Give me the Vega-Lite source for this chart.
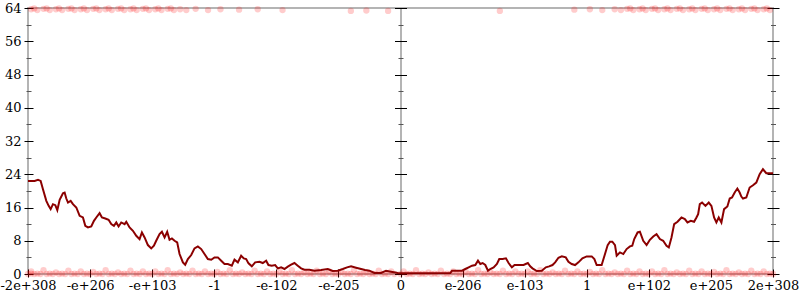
{
  "$schema": "https://vega.github.io/schema/vega-lite/v6.json",
  "width": 745,
  "height": 266,
  "autosize": {"type": "none"},
  "padding": {"left": 28, "top": 8, "right": 27, "bottom": 26},
  "config": {
    "view": {"stroke": "#b4b4b4", "strokeWidth": 2},
    "font": "DejaVu Serif",
    "axis": {"grid": false, "domain": false, "labelFont": "DejaVu Serif", "labelFontSize": 13, "labelColor": "#000", "tickColor": "#000", "tickWidth": 1, "title": null, "labelFlush": false, "labelOverlap": false, "labelBound": false}
  },
  "datasets": {
    "line": [
      {"pos":-6,"v":22.4},{"pos":-5.893,"v":22.4},{"pos":-5.839,"v":22.64},{"pos":-5.796,"v":22.4},{"pos":-5.759,"v":20.4},{"pos":-5.705,"v":17.6},{"pos":-5.667,"v":16.4},{"pos":-5.635,"v":15.6},{"pos":-5.598,"v":16.8},{"pos":-5.56,"v":16.56},{"pos":-5.528,"v":15.36},{"pos":-5.49,"v":17.84},{"pos":-5.437,"v":19.44},{"pos":-5.41,"v":19.6},{"pos":-5.383,"v":18.16},{"pos":-5.356,"v":17.2},{"pos":-5.313,"v":17.6},{"pos":-5.276,"v":16.8},{"pos":-5.222,"v":16.0},{"pos":-5.168,"v":14.0},{"pos":-5.115,"v":13.6},{"pos":-5.077,"v":11.6},{"pos":-5.034,"v":11.2},{"pos":-4.981,"v":11.44},{"pos":-4.938,"v":12.8},{"pos":-4.9,"v":13.6},{"pos":-4.847,"v":14.64},{"pos":-4.809,"v":13.6},{"pos":-4.755,"v":13.36},{"pos":-4.702,"v":13.04},{"pos":-4.659,"v":12.0},{"pos":-4.616,"v":11.6},{"pos":-4.578,"v":12.4},{"pos":-4.541,"v":11.44},{"pos":-4.498,"v":12.4},{"pos":-4.444,"v":12.0},{"pos":-4.417,"v":12.56},{"pos":-4.364,"v":11.2},{"pos":-4.31,"v":10.4},{"pos":-4.256,"v":9.2},{"pos":-4.203,"v":8.4},{"pos":-4.165,"v":10.0},{"pos":-4.122,"v":8.8},{"pos":-4.069,"v":6.96},{"pos":-4.015,"v":6.16},{"pos":-3.972,"v":6.8},{"pos":-3.935,"v":8.0},{"pos":-3.881,"v":9.6},{"pos":-3.843,"v":10.16},{"pos":-3.8,"v":8.8},{"pos":-3.758,"v":10.16},{"pos":-3.72,"v":8.24},{"pos":-3.682,"v":8.56},{"pos":-3.639,"v":8.0},{"pos":-3.597,"v":7.6},{"pos":-3.559,"v":4.8},{"pos":-3.505,"v":2.8},{"pos":-3.468,"v":2.24},{"pos":-3.425,"v":3.6},{"pos":-3.371,"v":4.56},{"pos":-3.318,"v":6.16},{"pos":-3.264,"v":6.64},{"pos":-3.21,"v":6.0},{"pos":-3.157,"v":4.8},{"pos":-3.103,"v":3.6},{"pos":-3.049,"v":3.44},{"pos":-2.996,"v":4.0},{"pos":-2.942,"v":4.0},{"pos":-2.888,"v":3.2},{"pos":-2.835,"v":2.4},{"pos":-2.781,"v":2.4},{"pos":-2.717,"v":2.0},{"pos":-2.674,"v":3.44},{"pos":-2.62,"v":2.8},{"pos":-2.567,"v":4.4},{"pos":-2.524,"v":3.76},{"pos":-2.486,"v":3.6},{"pos":-2.448,"v":2.56},{"pos":-2.395,"v":1.84},{"pos":-2.341,"v":2.8},{"pos":-2.271,"v":2.96},{"pos":-2.218,"v":2.64},{"pos":-2.164,"v":3.2},{"pos":-2.127,"v":2.16},{"pos":-2.073,"v":2.0},{"pos":-2.019,"v":2.16},{"pos":-1.976,"v":1.36},{"pos":-1.923,"v":1.6},{"pos":-1.869,"v":1.2},{"pos":-1.815,"v":1.76},{"pos":-1.762,"v":2.24},{"pos":-1.708,"v":2.64},{"pos":-1.655,"v":2.0},{"pos":-1.601,"v":1.36},{"pos":-1.547,"v":1.04},{"pos":-1.467,"v":1.04},{"pos":-1.386,"v":0.8},{"pos":-1.279,"v":0.96},{"pos":-1.172,"v":1.2},{"pos":-1.091,"v":0.72},{"pos":-1.011,"v":0.8},{"pos":-0.93,"v":1.2},{"pos":-0.861,"v":1.6},{"pos":-0.796,"v":1.84},{"pos":-0.716,"v":1.52},{"pos":-0.635,"v":1.2},{"pos":-0.571,"v":0.96},{"pos":-0.501,"v":0.8},{"pos":-0.421,"v":0.24},{"pos":-0.313,"v":0.24},{"pos":-0.233,"v":0.8},{"pos":-0.152,"v":0.56},{"pos":-0.045,"v":0.24},{"pos":0,"v":0.2},
      {"pos":0.803,"v":0.24},{"pos":0.83,"v":0.8},{"pos":0.991,"v":0.8},{"pos":1.044,"v":1.2},{"pos":1.098,"v":1.6},{"pos":1.152,"v":2.0},{"pos":1.205,"v":2.16},{"pos":1.248,"v":3.2},{"pos":1.285,"v":2.4},{"pos":1.323,"v":2.64},{"pos":1.366,"v":2.16},{"pos":1.409,"v":0.8},{"pos":1.446,"v":1.2},{"pos":1.5,"v":1.6},{"pos":1.553,"v":2.4},{"pos":1.591,"v":3.6},{"pos":1.644,"v":3.6},{"pos":1.698,"v":3.76},{"pos":1.741,"v":2.64},{"pos":1.794,"v":1.6},{"pos":1.837,"v":2.16},{"pos":1.901,"v":2.16},{"pos":1.982,"v":2.16},{"pos":2.051,"v":2.64},{"pos":2.089,"v":1.84},{"pos":2.126,"v":1.36},{"pos":2.196,"v":0.72},{"pos":2.276,"v":0.8},{"pos":2.341,"v":1.6},{"pos":2.394,"v":1.84},{"pos":2.448,"v":2.16},{"pos":2.491,"v":2.8},{"pos":2.544,"v":3.92},{"pos":2.598,"v":4.24},{"pos":2.662,"v":4.0},{"pos":2.705,"v":2.96},{"pos":2.758,"v":2.4},{"pos":2.812,"v":2.16},{"pos":2.866,"v":2.8},{"pos":2.93,"v":3.76},{"pos":2.999,"v":4.24},{"pos":3.08,"v":4.24},{"pos":3.123,"v":3.6},{"pos":3.16,"v":2.16},{"pos":3.24,"v":2.16},{"pos":3.294,"v":4.8},{"pos":3.337,"v":6.96},{"pos":3.374,"v":7.76},{"pos":3.412,"v":7.76},{"pos":3.455,"v":6.96},{"pos":3.482,"v":4.4},{"pos":3.535,"v":5.2},{"pos":3.589,"v":4.8},{"pos":3.642,"v":6.0},{"pos":3.696,"v":6.64},{"pos":3.733,"v":6.8},{"pos":3.765,"v":8.4},{"pos":3.819,"v":10.0},{"pos":3.856,"v":10.16},{"pos":3.91,"v":8.0},{"pos":3.964,"v":6.96},{"pos":4.017,"v":8.24},{"pos":4.071,"v":9.04},{"pos":4.124,"v":9.6},{"pos":4.178,"v":8.4},{"pos":4.231,"v":8.0},{"pos":4.285,"v":6.8},{"pos":4.322,"v":6.4},{"pos":4.365,"v":8.8},{"pos":4.408,"v":12.0},{"pos":4.462,"v":12.56},{"pos":4.526,"v":13.6},{"pos":4.58,"v":13.2},{"pos":4.622,"v":12.4},{"pos":4.676,"v":12.8},{"pos":4.729,"v":12.56},{"pos":4.767,"v":13.6},{"pos":4.794,"v":14.4},{"pos":4.821,"v":16.8},{"pos":4.858,"v":17.2},{"pos":4.912,"v":16.4},{"pos":4.965,"v":17.2},{"pos":5.008,"v":16.4},{"pos":5.051,"v":13.6},{"pos":5.088,"v":12.4},{"pos":5.126,"v":13.6},{"pos":5.169,"v":12.4},{"pos":5.212,"v":15.6},{"pos":5.265,"v":16.24},{"pos":5.303,"v":18.16},{"pos":5.34,"v":18.4},{"pos":5.383,"v":19.6},{"pos":5.426,"v":20.56},{"pos":5.463,"v":19.6},{"pos":5.49,"v":18.64},{"pos":5.517,"v":18.16},{"pos":5.57,"v":18.4},{"pos":5.624,"v":20.8},{"pos":5.678,"v":21.36},{"pos":5.731,"v":22.0},{"pos":5.785,"v":24.0},{"pos":5.838,"v":25.2},{"pos":5.892,"v":24.24},{"pos":6,"v":24.24}
    ],
    "pts": [
      {"pos":-6,"v":0},{"pos":-5.9,"v":0},{"pos":-5.8,"v":0},{"pos":-5.7,"v":0},{"pos":-5.6,"v":0},{"pos":-5.5,"v":0},{"pos":-5.4,"v":0},{"pos":-5.3,"v":0},{"pos":-5.2,"v":0},{"pos":-5.1,"v":0},
      {"pos":-5,"v":0},{"pos":-4.9,"v":0},{"pos":-4.8,"v":0},{"pos":-4.7,"v":0},{"pos":-4.6,"v":0},{"pos":-4.5,"v":0},{"pos":-4.4,"v":0},{"pos":-4.3,"v":0},{"pos":-4.2,"v":0},{"pos":-4.1,"v":0},
      {"pos":-4,"v":0},{"pos":-3.9,"v":0},{"pos":-3.8,"v":0},{"pos":-3.7,"v":0},{"pos":-3.6,"v":0},{"pos":-3.5,"v":0},{"pos":-3.4,"v":0},{"pos":-3.3,"v":0},{"pos":-3.2,"v":0},{"pos":-3.1,"v":0},
      {"pos":-3,"v":0},{"pos":-2.9,"v":0},{"pos":-2.8,"v":0},{"pos":-2.7,"v":0},{"pos":-2.6,"v":0},{"pos":-2.5,"v":0},{"pos":-2.4,"v":0},{"pos":-2.3,"v":0},{"pos":-2.2,"v":0},{"pos":-2.1,"v":0},
      {"pos":-2,"v":0},{"pos":-1.9,"v":0},{"pos":-1.8,"v":0},{"pos":-1.7,"v":0},{"pos":-1.6,"v":0},{"pos":-1.5,"v":0},{"pos":-1.4,"v":0},{"pos":-1.3,"v":0},{"pos":-1.2,"v":0},{"pos":-1.1,"v":0},
      {"pos":-1,"v":0},{"pos":-0.9,"v":0},{"pos":-0.8,"v":0},{"pos":-0.7,"v":0},{"pos":-0.6,"v":0},{"pos":-0.5,"v":0},{"pos":-0.4,"v":0},{"pos":-0.3,"v":0},{"pos":-0.2,"v":0},{"pos":-0.1,"v":0},
      {"pos":0,"v":0},{"pos":0.1,"v":0},{"pos":0.2,"v":0},{"pos":0.3,"v":0},{"pos":0.4,"v":0},{"pos":0.5,"v":0},{"pos":0.6,"v":0},{"pos":0.7,"v":0},{"pos":0.8,"v":0},{"pos":0.9,"v":0},
      {"pos":1,"v":0},{"pos":1.1,"v":0},{"pos":1.2,"v":0},{"pos":1.3,"v":0},{"pos":1.4,"v":0},{"pos":1.5,"v":0},{"pos":1.6,"v":0},{"pos":1.7,"v":0},{"pos":1.8,"v":0},{"pos":1.9,"v":0},
      {"pos":2,"v":0},{"pos":2.1,"v":0},{"pos":2.2,"v":0},{"pos":2.3,"v":0},{"pos":2.4,"v":0},{"pos":2.5,"v":0},{"pos":2.6,"v":0},{"pos":2.7,"v":0},{"pos":2.8,"v":0},{"pos":2.9,"v":0},
      {"pos":3,"v":0},{"pos":3.1,"v":0},{"pos":3.2,"v":0},{"pos":3.3,"v":0},{"pos":3.4,"v":0},{"pos":3.5,"v":0},{"pos":3.6,"v":0},{"pos":3.7,"v":0},{"pos":3.8,"v":0},{"pos":3.9,"v":0},
      {"pos":4,"v":0},{"pos":4.1,"v":0},{"pos":4.2,"v":0},{"pos":4.3,"v":0},{"pos":4.4,"v":0},{"pos":4.5,"v":0},{"pos":4.6,"v":0},{"pos":4.7,"v":0},{"pos":4.8,"v":0},{"pos":4.9,"v":0},
      {"pos":5,"v":0},{"pos":5.1,"v":0},{"pos":5.2,"v":0},{"pos":5.3,"v":0},{"pos":5.4,"v":0},{"pos":5.5,"v":0},{"pos":5.6,"v":0},{"pos":5.7,"v":0},{"pos":5.8,"v":0},{"pos":5.9,"v":0},{"pos":6,"v":0},
      {"pos":-5.95,"v":0.1},{"pos":-5.85,"v":0.1},{"pos":-5.65,"v":0.1},{"pos":-5.45,"v":0.1},{"pos":-5.25,"v":0.1},{"pos":-5.05,"v":0.1},{"pos":-4.85,"v":0.1},{"pos":-4.65,"v":0.1},{"pos":-4.45,"v":0.1},{"pos":-4.25,"v":0.1},
      {"pos":-4.05,"v":0.1},{"pos":-3.85,"v":0.1},{"pos":-3.65,"v":0.1},{"pos":-3.45,"v":0.1},{"pos":-3.25,"v":0.1},{"pos":-3.05,"v":0.1},{"pos":-2.85,"v":0.1},{"pos":-2.65,"v":0.1},{"pos":-2.45,"v":0.1},{"pos":-2.25,"v":0.1},
      {"pos":-2.05,"v":0.1},{"pos":-1.85,"v":0.1},{"pos":-1.65,"v":0.1},{"pos":-1.45,"v":0.1},{"pos":-1.25,"v":0.1},{"pos":-1.05,"v":0.1},{"pos":-0.85,"v":0.1},{"pos":-0.65,"v":0.1},{"pos":-0.45,"v":0.1},{"pos":-0.25,"v":0.1},
      {"pos":0.15,"v":0.1},{"pos":0.35,"v":0.1},{"pos":0.55,"v":0.1},{"pos":0.75,"v":0.1},{"pos":0.95,"v":0.1},{"pos":1.15,"v":0.1},{"pos":1.35,"v":0.1},{"pos":1.55,"v":0.1},{"pos":1.75,"v":0.1},{"pos":1.95,"v":0.1},
      {"pos":2.15,"v":0.1},{"pos":2.35,"v":0.1},{"pos":2.55,"v":0.1},{"pos":2.75,"v":0.1},{"pos":2.95,"v":0.1},{"pos":3.15,"v":0.1},{"pos":3.35,"v":0.1},{"pos":3.55,"v":0.1},{"pos":3.75,"v":0.1},{"pos":3.95,"v":0.1},
      {"pos":4.15,"v":0.1},{"pos":4.35,"v":0.1},{"pos":4.55,"v":0.1},{"pos":4.75,"v":0.1},{"pos":4.95,"v":0.1},{"pos":5.15,"v":0.1},{"pos":5.35,"v":0.1},{"pos":5.55,"v":0.1},{"pos":5.75,"v":0.1},{"pos":5.95,"v":0.1},
      {"pos":-5.95,"v":0.6},{"pos":-5.75,"v":0.9},{"pos":-5.55,"v":0.4},{"pos":-5.35,"v":0.8},{"pos":-5.15,"v":0.6},{"pos":-4.95,"v":0.5},{"pos":-4.75,"v":0.9},{"pos":-4.55,"v":0.4},{"pos":-4.35,"v":0.8},{"pos":-4.15,"v":0.6},
      {"pos":-3.95,"v":0.6},{"pos":-3.75,"v":0.9},{"pos":-3.55,"v":0.4},{"pos":-3.35,"v":0.8},{"pos":-3.15,"v":0.6},{"pos":-2.95,"v":0.5},{"pos":-2.75,"v":0.9},{"pos":-2.55,"v":0.4},{"pos":-2.35,"v":0.8},{"pos":-2.15,"v":0.6},
      {"pos":-1.95,"v":0.6},{"pos":-1.75,"v":0.9},{"pos":-1.55,"v":0.4},{"pos":-1.35,"v":0.8},{"pos":-1.15,"v":0.6},{"pos":-0.95,"v":0.5},{"pos":-0.75,"v":0.9},{"pos":-0.55,"v":0.4},{"pos":-0.35,"v":0.8},{"pos":-0.15,"v":0.6},
      {"pos":0.05,"v":0.6},{"pos":0.25,"v":0.9},{"pos":0.45,"v":0.4},{"pos":0.65,"v":0.8},{"pos":0.85,"v":0.6},{"pos":1.05,"v":0.5},{"pos":1.25,"v":0.9},{"pos":1.45,"v":0.4},{"pos":1.65,"v":0.8},{"pos":1.85,"v":0.6},
      {"pos":2.05,"v":0.6},{"pos":2.25,"v":0.9},{"pos":2.45,"v":0.4},{"pos":2.65,"v":0.8},{"pos":2.85,"v":0.6},{"pos":3.05,"v":0.5},{"pos":3.25,"v":0.9},{"pos":3.45,"v":0.4},{"pos":3.65,"v":0.8},{"pos":3.85,"v":0.6},
      {"pos":4.05,"v":0.6},{"pos":4.25,"v":0.9},{"pos":4.45,"v":0.4},{"pos":4.65,"v":0.8},{"pos":4.85,"v":0.6},{"pos":5.05,"v":0.5},{"pos":5.25,"v":0.9},{"pos":5.45,"v":0.4},{"pos":5.65,"v":0.8},{"pos":5.85,"v":0.6},
      {"pos":-5.95,"v":63.7},{"pos":-5.85,"v":63.5},{"pos":-5.75,"v":63.8},{"pos":-5.65,"v":63.5},{"pos":-5.55,"v":63.7},{"pos":-5.45,"v":63.5},{"pos":-5.35,"v":63.8},{"pos":-5.25,"v":63.5},{"pos":-5.15,"v":63.7},{"pos":-5.05,"v":63.5},
      {"pos":-4.95,"v":63.8},{"pos":-4.85,"v":63.5},{"pos":-4.75,"v":63.7},{"pos":-4.65,"v":63.5},{"pos":-4.55,"v":63.8},{"pos":-4.45,"v":63.5},{"pos":-4.35,"v":63.7},{"pos":-4.25,"v":63.5},{"pos":-4.15,"v":63.8},{"pos":-4.05,"v":63.5},
      {"pos":-3.95,"v":63.7},{"pos":-3.85,"v":63.5},{"pos":-3.75,"v":63.8},{"pos":-3.65,"v":63.5},{"pos":-3.55,"v":63.7},{"pos":-3.45,"v":63.5},{"pos":-3.3,"v":63.8},{"pos":-3.1,"v":63.5},{"pos":-2.9,"v":63.7},{"pos":-2.6,"v":63.6},
      {"pos":-2.3,"v":63.7},{"pos":-1.9,"v":63.5},{"pos":-0.8,"v":63.3},{"pos":-0.55,"v":63.4},{"pos":-0.2,"v":63.3},{"pos":1.6,"v":63.3},
      {"pos":2.8,"v":63.6},{"pos":3.05,"v":63.7},{"pos":3.25,"v":63.5},{"pos":3.45,"v":63.7},{"pos":3.55,"v":63.5},{"pos":3.65,"v":63.8},{"pos":3.75,"v":63.5},{"pos":3.85,"v":63.7},{"pos":3.95,"v":63.5},{"pos":4.05,"v":63.8},
      {"pos":4.15,"v":63.5},{"pos":4.25,"v":63.7},{"pos":4.35,"v":63.5},{"pos":4.45,"v":63.8},{"pos":4.55,"v":63.5},{"pos":4.65,"v":63.7},{"pos":4.75,"v":63.5},{"pos":4.85,"v":63.8},{"pos":4.95,"v":63.5},{"pos":5.05,"v":63.7},
      {"pos":5.15,"v":63.5},{"pos":5.25,"v":63.8},{"pos":5.35,"v":63.5},{"pos":5.45,"v":63.7},{"pos":5.55,"v":63.5},{"pos":5.65,"v":63.8},{"pos":5.75,"v":63.5},{"pos":5.85,"v":63.7},{"pos":5.95,"v":63.5},
      {"pos":-5.9,"v":63.9},{"pos":-5.7,"v":63.9},{"pos":-5.5,"v":63.9},{"pos":-5.3,"v":63.9},{"pos":-5.1,"v":63.9},{"pos":-4.9,"v":63.9},{"pos":-4.7,"v":63.9},{"pos":-4.5,"v":63.9},{"pos":-4.3,"v":63.9},{"pos":-4.1,"v":63.9},
      {"pos":-3.9,"v":63.9},{"pos":-3.7,"v":63.9},{"pos":3.7,"v":63.9},{"pos":3.9,"v":63.9},{"pos":4.1,"v":63.9},{"pos":4.3,"v":63.9},{"pos":4.5,"v":63.9},{"pos":4.7,"v":63.9},{"pos":4.9,"v":63.9},{"pos":5.1,"v":63.9},
      {"pos":5.3,"v":63.9},{"pos":5.5,"v":63.9},{"pos":5.7,"v":63.9},{"pos":5.9,"v":63.9}
    ]
  },
  "layer": [
    {
      "data": {"name": "pts"},
      "mark": {"type": "circle", "color": "#ff0000", "opacity": 0.2, "size": 40},
      "encoding": {
        "x": {"field": "pos", "type": "quantitative", "scale": {"domain": [-6, 6], "nice": false, "zero": false},
          "axis": {"orient": "bottom", "values": [-6,-5,-4,-3,-2,-1,0,1,2,3,4,5,6], "offset": -5, "tickSize": 8, "labelPadding": 2,
            "labelExpr": "['-2e+308','-e+206','-e+103','-1','-e-102','-e-205','0','e-206','e-103','1','e+102','e+205','2e+308'][datum.value + 6]"}},
        "y": {"field": "v", "type": "quantitative", "scale": {"domain": [0, 64], "nice": false},
          "axis": {"orient": "left", "values": [0,8,16,24,32,40,48,56,64], "offset": -5, "tickSize": 9, "labelPadding": 3}}
      }
    },
    {
      "data": {"name": "line"},
      "mark": {"type": "line", "color": "#8b0000", "strokeWidth": 2},
      "encoding": {
        "x": {"field": "pos", "type": "quantitative", "scale": {"domain": [-6, 6], "nice": false, "zero": false}, "axis": null},
        "y": {"field": "v", "type": "quantitative", "scale": {"domain": [0, 64], "nice": false},
          "axis": {"orient": "left", "values": [4,12,20,28,36,44,52,60], "offset": -3, "tickSize": 5, "tickColor": "#555", "labels": false}}
      }
    },
    {
      "data": {"name": "line"},
      "mark": {"type": "point", "opacity": 0},
      "encoding": {
        "x": {"field": "pos", "type": "quantitative", "scale": {"domain": [-6, 6], "nice": false, "zero": false}, "axis": null},
        "y": {"field": "v", "type": "quantitative", "scale": {"domain": [0, 64], "nice": false},
          "axis": {"orient": "left", "offset": -372.5, "domain": true, "domainColor": "#b4b4b4", "domainWidth": 2, "ticks": false, "labels": false}}
      }
    },
    {
      "data": {"name": "line"},
      "mark": {"type": "point", "opacity": 0},
      "encoding": {
        "x": {"field": "pos", "type": "quantitative", "scale": {"domain": [-6, 6], "nice": false, "zero": false}, "axis": null},
        "y": {"field": "v", "type": "quantitative", "scale": {"domain": [0, 64], "nice": false},
          "axis": {"orient": "left", "values": [0,8,16,24,32,40,48,56,64], "offset": -378.5, "tickSize": 12, "labels": false}}
      }
    },
    {
      "data": {"name": "line"},
      "mark": {"type": "point", "opacity": 0},
      "encoding": {
        "x": {"field": "pos", "type": "quantitative", "scale": {"domain": [-6, 6], "nice": false, "zero": false}, "axis": null},
        "y": {"field": "v", "type": "quantitative", "scale": {"domain": [0, 64], "nice": false},
          "axis": {"orient": "left", "values": [4,12,20,28,36,44,52,60], "offset": -375, "tickSize": 5, "tickColor": "#555", "labels": false}}
      }
    },
    {
      "data": {"name": "line"},
      "mark": {"type": "point", "opacity": 0},
      "encoding": {
        "x": {"field": "pos", "type": "quantitative", "scale": {"domain": [-6, 6], "nice": false, "zero": false}, "axis": null},
        "y": {"field": "v", "type": "quantitative", "scale": {"domain": [0, 64], "nice": false},
          "axis": {"orient": "right", "values": [0,8,16,24,32,40,48,56,64], "offset": -6, "tickSize": 12, "labels": false}}
      }
    },
    {
      "data": {"name": "line"},
      "mark": {"type": "point", "opacity": 0},
      "encoding": {
        "x": {"field": "pos", "type": "quantitative", "scale": {"domain": [-6, 6], "nice": false, "zero": false}, "axis": null},
        "y": {"field": "v", "type": "quantitative", "scale": {"domain": [0, 64], "nice": false},
          "axis": {"orient": "right", "values": [4,12,20,28,36,44,52,60], "offset": -2.5, "tickSize": 5, "tickColor": "#555", "labels": false}}
      }
    }
  ],
  "resolve": {"axis": {"x": "independent", "y": "independent"}}
}
